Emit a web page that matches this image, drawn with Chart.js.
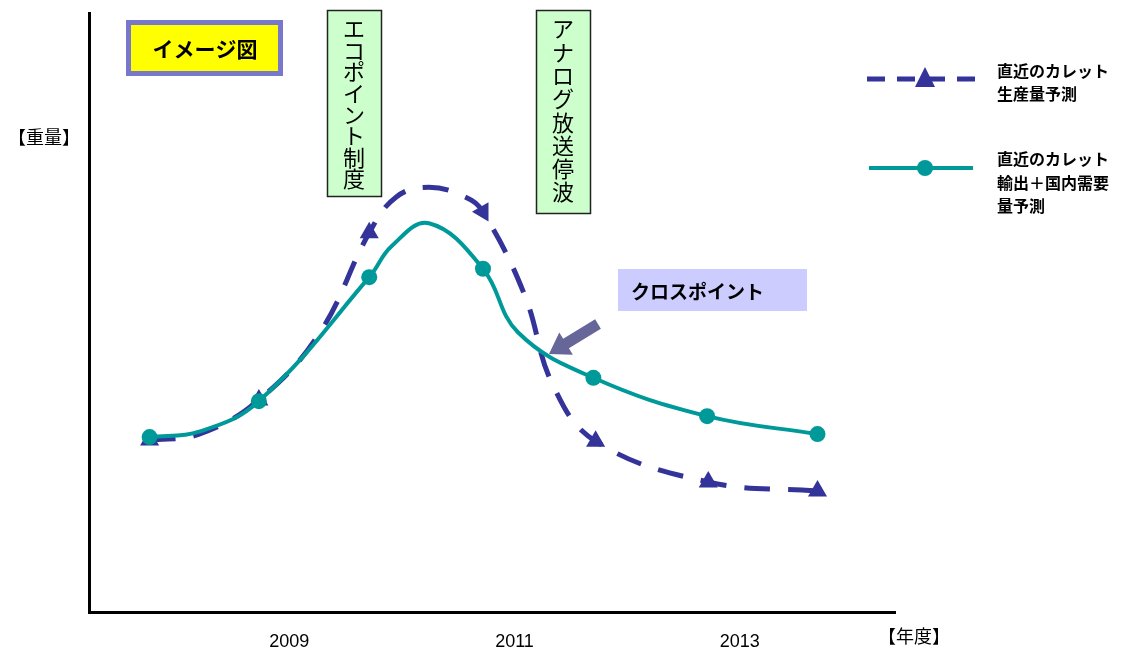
<!DOCTYPE html>
<html>
<head>
<meta charset="utf-8">
<script src="https://cdn.jsdelivr.net/npm/chart.js@4"></script>
<style>
  html, body { margin: 0; padding: 0; background: #fff; }
  #wrap { position: relative; width: 1132px; height: 652px; }
</style>
</head>
<body>
<div id="wrap"><canvas id="chart" width="1132" height="652"></canvas></div>
<script>
// fiscal year on x, relative weight (0-100) on y
// points with marked=false only shape the curve, no marker is drawn there
const prodYears  = [2007.76, 2008.20, 2008.73, 2009.27, 2009.71, 2009.95, 2010.24, 2010.56, 2010.72, 2011.09, 2011.34, 2011.72, 2012.72, 2013.69];
const prodValues = [28.7,    29.7,    35.4,    46.6,    63.3,    69.3,    70.9,    69.3,    66.8,    52.9,    37.9,    28.5,    21.7,    20.2];
const prodMarked = [true,    false,   true,    false,   true,    false,   false,   false,   true,    false,   false,   true,    true,    true];

const demandYears  = [2007.76, 2008.20, 2008.73, 2009.71, 2009.91, 2010.24, 2010.72, 2011.03, 2011.70, 2012.71, 2013.69];
const demandValues = [29.2,    30.1,    35.2,    55.9,    61.1,    64.9,    57.3,    46.7,    39.1,    32.7,    29.7];
const demandMarked = [true,    false,   true,    true,    false,   false,   true,    false,   true,    true,    true];

const tickYears = [2009, 2011, 2013];

const prodLabel = ['直近のカレット', '生産量予測'];
const demandLabel = ['直近のカレット', '輸出＋国内需要', '量予測'];

const BLUE = '#333399';
const TEAL = '#009999';
const JP = '"Noto Sans CJK JP", "Noto Sans", sans-serif';

function toPoints(xs, ys) {
  return xs.map((x, i) => ({ x: x, y: ys[i] }));
}

function verticalText(ctx, text, x, y0, step) {
  [...text].forEach((ch, i) => ctx.fillText(ch, x, y0 + i * step));
}

// boxes, arrow, axis titles and the legend
const decorations = {
  id: 'decorations',
  afterDraw(chart) {
    const ctx = chart.ctx;
    ctx.save();
    ctx.textBaseline = 'middle';
    ctx.fillStyle = '#000';

    // axis titles
    ctx.font = '18px ' + JP;
    ctx.textAlign = 'left';
    ctx.fillText('【重量】', 8, 137);
    ctx.fillText('【年度】', 878, 636);

    // title badge
    ctx.fillStyle = '#ffff00';
    ctx.fillRect(128, 22, 153, 52);
    ctx.strokeStyle = '#7777cc';
    ctx.lineWidth = 5;
    ctx.strokeRect(128.5, 22.5, 152, 51);
    ctx.fillStyle = '#000';
    ctx.font = 'bold 21px ' + JP;
    ctx.textAlign = 'center';
    ctx.fillText('イメージ図', 205, 49);

    // event labels
    ctx.fillStyle = '#ccffcc';
    ctx.fillRect(327, 10, 55, 187);
    ctx.fillRect(536, 10, 55, 204);
    ctx.strokeStyle = '#222';
    ctx.lineWidth = 1.5;
    ctx.strokeRect(327.5, 10.5, 54, 186);
    ctx.strokeRect(536.5, 10.5, 54, 203);
    ctx.fillStyle = '#000';
    ctx.font = '22px ' + JP;
    verticalText(ctx, 'エコポイント制度', 354, 29, 21.4);
    verticalText(ctx, 'アナログ放送停波', 563, 29, 23.3);

    // cross point callout
    ctx.fillStyle = '#ccccff';
    ctx.fillRect(618, 269, 189, 42);
    ctx.fillStyle = '#000';
    ctx.font = 'bold 19px ' + JP;
    ctx.textAlign = 'left';
    ctx.fillText('クロスポイント', 631, 292);

    // arrow toward the crossing
    const tail = { x: 598, y: 324 }, tip = { x: 549, y: 354 };
    const ang = Math.atan2(tip.y - tail.y, tip.x - tail.x);
    const len = Math.hypot(tip.x - tail.x, tip.y - tail.y);
    ctx.translate(tail.x, tail.y);
    ctx.rotate(ang);
    ctx.fillStyle = '#666699';
    ctx.beginPath();
    ctx.moveTo(0, -5.5);
    ctx.lineTo(len - 20, -5.5);
    ctx.lineTo(len - 20, -13);
    ctx.lineTo(len, 0);
    ctx.lineTo(len - 20, 13);
    ctx.lineTo(len - 20, 5.5);
    ctx.lineTo(0, 5.5);
    ctx.closePath();
    ctx.fill();
    ctx.setTransform(1, 0, 0, 1, 0, 0);

    // legend
    ctx.strokeStyle = BLUE;
    ctx.lineWidth = 5;
    ctx.setLineDash([18, 12]);
    ctx.beginPath();
    ctx.moveTo(867, 79);
    ctx.lineTo(975, 79);
    ctx.stroke();
    ctx.setLineDash([]);
    ctx.fillStyle = BLUE;
    ctx.beginPath();
    ctx.moveTo(925, 67);
    ctx.lineTo(935, 87);
    ctx.lineTo(915, 87);
    ctx.closePath();
    ctx.fill();

    ctx.strokeStyle = TEAL;
    ctx.lineWidth = 4;
    ctx.beginPath();
    ctx.moveTo(869, 168);
    ctx.lineTo(973, 168);
    ctx.stroke();
    ctx.fillStyle = TEAL;
    ctx.beginPath();
    ctx.arc(925, 168, 8, 0, Math.PI * 2);
    ctx.fill();

    ctx.fillStyle = '#000';
    ctx.font = 'bold 16px ' + JP;
    ctx.textAlign = 'left';
    prodLabel.forEach((t, i) => ctx.fillText(t, 997, 71 + i * 23));
    demandLabel.forEach((t, i) => ctx.fillText(t, 997, 159 + i * 23.5));

    ctx.restore();
  }
};

new Chart(document.getElementById('chart'), {
  type: 'line',
  data: {
    datasets: [
      {
        label: demandLabel.join(''),
        data: toPoints(demandYears, demandValues),
        borderColor: TEAL,
        borderWidth: 4,
        tension: 0.4,
        pointStyle: 'circle',
        pointRadius: demandMarked.map(m => m ? 8 : 0),
        pointBackgroundColor: TEAL,
        pointBorderWidth: 0
      },
      {
        label: prodLabel.join(''),
        data: toPoints(prodYears, prodValues),
        borderColor: BLUE,
        borderWidth: 5,
        borderDash: [26, 18],
        tension: 0.4,
        pointStyle: 'triangle',
        pointRadius: prodMarked.map(m => m ? 11 : 0),
        pointRotation: prodYears.map((x, i) => i === 8 ? 150 : 0),
        pointBackgroundColor: BLUE,
        pointBorderWidth: 0
      }
    ]
  },
  options: {
    responsive: false,
    animation: false,
    devicePixelRatio: 1,
    layout: { padding: { left: 89, right: 237, top: 13, bottom: 2 } },
    plugins: { legend: { display: false }, tooltip: { enabled: false } },
    scales: {
      x: {
        type: 'linear',
        min: 2007.222,
        max: 2014.378,
        afterBuildTicks: scale => { scale.ticks = tickYears.map(v => ({ value: v })); },
        afterFit: scale => { scale.height = 38; },
        ticks: {
          callback: v => String(v),
          color: '#000',
          font: { family: '"Liberation Sans", Arial, sans-serif', size: 18 },
          padding: 19,
          autoSkip: false,
          maxRotation: 0
        },
        grid: { display: false, drawTicks: false },
        border: { display: true, color: '#000', width: 3 }
      },
      y: {
        min: 0,
        max: 100,
        ticks: { display: false },
        grid: { display: false, drawTicks: false },
        border: { display: true, color: '#000', width: 3 }
      }
    }
  },
  plugins: [decorations]
});
</script>
</body>
</html>
